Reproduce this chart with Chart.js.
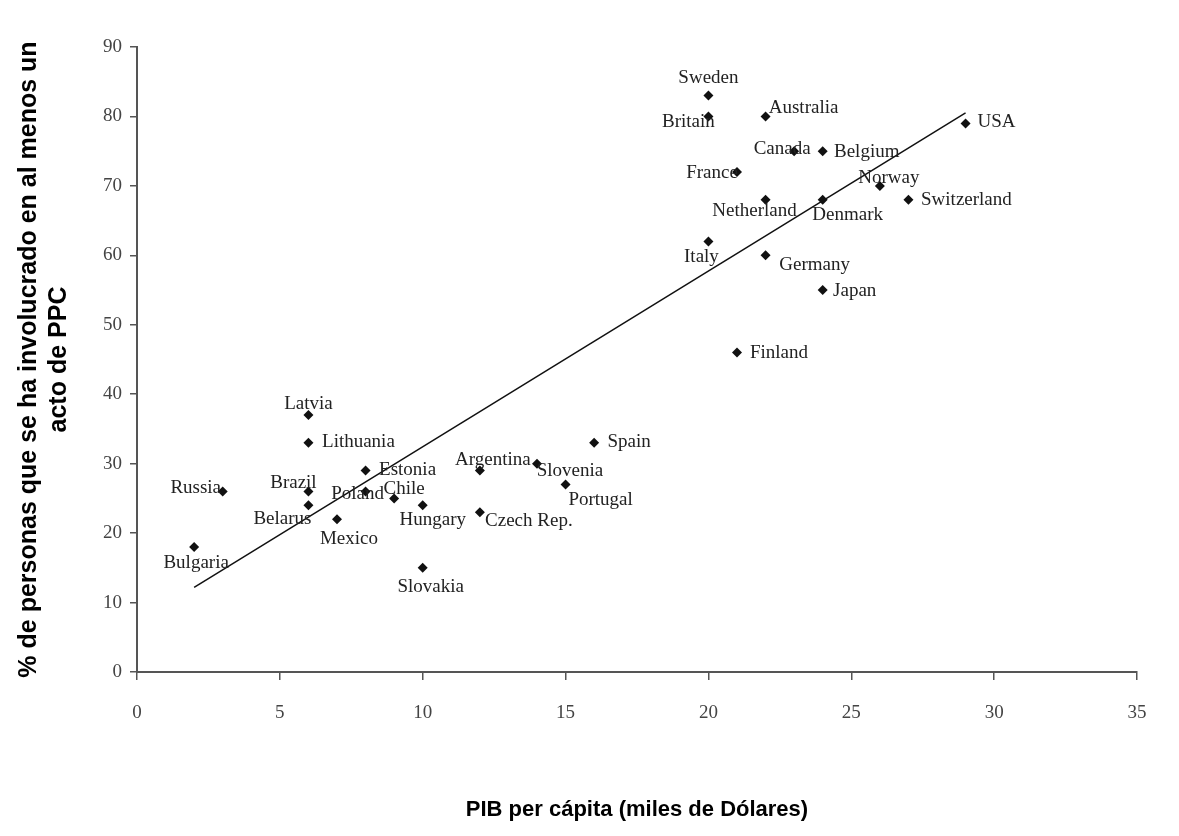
<!DOCTYPE html>
<html lang="es">
<head>
<meta charset="utf-8">
<title>PPC vs PIB per cápita</title>
<script src="https://cdn.jsdelivr.net/npm/chart.js@4"></script>
<style>
  html, body { margin: 0; padding: 0; background: #fff; }
  #contenedor { width: 1179px; height: 836px; position: relative; }
</style>
</head>
<body>
<div id="contenedor"><canvas id="grafico"></canvas></div>
<script>
// Datos
const paises = [
  "Sweden", "Britain", "Australia", "Canada", "Belgium", "France", "Netherland",
  "Denmark", "Norway", "Switzerland", "USA", "Italy", "Germany", "Japan", "Finland",
  "Latvia", "Lithuania", "Estonia", "Russia", "Brazil", "Belarus", "Poland", "Chile",
  "Mexico", "Hungary", "Bulgaria", "Slovakia", "Argentina", "Slovenia", "Spain",
  "Portugal", "Czech Rep.",
];
const pibPerCapita = [
  20, 20, 22, 23, 24, 21, 22,
  24, 26, 27, 29, 20, 22, 24, 21,
  6, 6, 8, 3, 6, 6, 8, 9,
  7, 10, 2, 10, 12, 14, 16,
  15, 12,
];
const porcentajePPC = [
  83, 80, 80, 75, 75, 72, 68,
  68, 70, 68, 79, 62, 60, 55, 46,
  37, 33, 29, 26, 26, 24, 26, 25,
  22, 24, 18, 15, 29, 30, 33,
  27, 23,
];

// Recta de tendencia (extremos)
const tendenciaX = [2, 29];
const tendenciaY = [12.2, 80.5];

const ticksX = [0, 5, 10, 15, 20, 25, 30, 35];
const ticksY = [0, 10, 20, 30, 40, 50, 60, 70, 80, 90];

// Desplazamiento de cada etiqueta respecto a su punto (px)
const desplazamientos = [
  [0, -18], [-20, 6], [38, -8], [-12, -2], [44, 1], [-25, 1], [-11, 11],
  [25, 15], [9, -8], [58, 0], [31, -1], [-7, 16], [49, 10], [32, 1], [42, 0],
  [0, -11], [50, -1], [42, -1], [-27, -3], [-15, -8], [-26, 14], [-8, 3], [10, -9],
  [12, 20], [10, 15], [2, 16], [8, 19], [13, -11], [33, 7], [35, -1],
  [35, 16], [49, 9],
];

const puntos = paises.map((p, i) => ({ x: pibPerCapita[i], y: porcentajePPC[i] }));
const recta = tendenciaX.map((x, i) => ({ x: x, y: tendenciaY[i] }));

const etiquetasPlugin = {
  id: "etiquetasPaises",
  afterDatasetsDraw(chart) {
    const ctx = chart.ctx;
    const meta = chart.getDatasetMeta(0);
    ctx.save();
    ctx.font = "19px 'Liberation Serif', serif";
    ctx.fillStyle = "#222";
    ctx.textAlign = "center";
    ctx.textBaseline = "middle";
    meta.data.forEach((el, i) => {
      const [dx, dy] = desplazamientos[i];
      ctx.fillText(paises[i], el.x + dx, el.y + dy);
    });
    ctx.restore();
  },
};

const fuenteTicks = { family: "'Liberation Serif', serif", size: 19 };

new Chart(document.getElementById("grafico"), {
  type: "scatter",
  data: {
    datasets: [
      {
        label: "Países",
        data: puntos,
        pointStyle: "rectRot",
        pointRadius: 5,
        backgroundColor: "#111",
        borderColor: "#111",
        borderWidth: 0,
      },
      {
        label: "Tendencia",
        type: "line",
        data: recta,
        borderColor: "#111",
        borderWidth: 1.5,
        pointRadius: 0,
        fill: false,
      },
    ],
  },
  options: {
    responsive: true,
    maintainAspectRatio: false,
    animation: false,
    layout: { padding: { top: 47, right: 42, bottom: 0, left: 0 } },
    plugins: {
      legend: { display: false },
      tooltip: { enabled: false },
    },
    scales: {
      x: {
        type: "linear",
        min: 0,
        max: 35,
        afterBuildTicks: (s) => { s.ticks = ticksX.map((v) => ({ value: v })); },
        afterFit: (s) => { s.height = 164; },
        border: { color: "#555", width: 2 },
        grid: { drawOnChartArea: false, drawTicks: true, tickLength: 8, color: "#555", lineWidth: 1.5 },
        ticks: { font: fuenteTicks, color: "#444", padding: 22 },
        title: {
          display: true,
          text: "PIB per cápita (miles de Dólares)",
          font: { family: "'Liberation Sans', Arial, sans-serif", size: 22, weight: "bold", lineHeight: 1.2 },
          color: "#000",
          padding: { top: 0, bottom: 13 },
        },
      },
      y: {
        type: "linear",
        min: 0,
        max: 90,
        afterBuildTicks: (s) => { s.ticks = ticksY.map((v) => ({ value: v })); },
        afterFit: (s) => { s.width = 137; },
        border: { color: "#555", width: 2 },
        grid: { drawOnChartArea: false, drawTicks: true, tickLength: 7, color: "#555", lineWidth: 1.5 },
        ticks: { font: fuenteTicks, color: "#444", padding: 8 },
        title: {
          display: true,
          text: ["% de personas que se ha involucrado en al menos un", "acto de PPC"],
          font: { family: "'Liberation Sans', Arial, sans-serif", size: 25, weight: "bold", lineHeight: 1.2 },
          color: "#000",
          padding: { top: 14, bottom: 0 },
        },
      },
    },
  },
  plugins: [etiquetasPlugin],
});
</script>
</body>
</html>
